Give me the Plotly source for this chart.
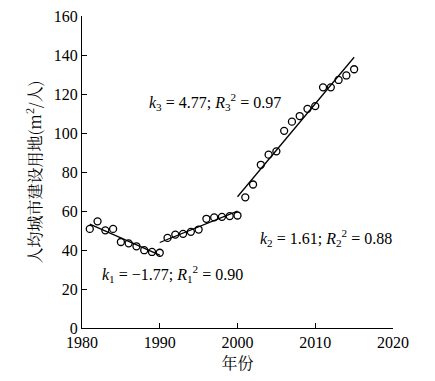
import numpy as np
import plotly.graph_objects as go

years1 = [1981, 1982, 1983, 1984, 1985, 1986, 1987, 1988, 1989, 1990]
vals1 = [50.8, 54.7, 50.1, 50.8, 44.1, 43.4, 41.9, 39.9, 39.0, 38.6]
years2 = [1991, 1992, 1993, 1994, 1995, 1996, 1997, 1998, 1999, 2000]
vals2 = [46.2, 47.9, 48.3, 49.3, 50.5, 56.0, 56.7, 57.0, 57.4, 57.7]
years3 = list(range(2001, 2016))
vals3 = [67.0, 73.6, 83.7, 88.9, 90.6, 101.1, 105.8, 108.7, 112.4, 113.8,
         123.4, 123.4, 127.2, 129.5, 132.7]

slopes = [-1.77, 1.61, 4.77]
r2 = ["0.90", "0.88", "0.97"]
line_ranges = [(1981, 1990), (1990, 2000), (2000, 2015)]

serif = "Liberation Serif, Times New Roman, Noto Sans CJK SC, serif"

fig = go.Figure()
all_years = years1 + years2 + years3
all_vals = vals1 + vals2 + vals3
fig.add_trace(go.Scatter(x=all_years, y=all_vals, mode="markers",
                         marker=dict(symbol="circle-open", size=7,
                                     color="black", line=dict(width=1.3)),
                         showlegend=False))

for (xs, ys), k, (a, b) in zip([(years1, vals1), (years2, vals2), (years3, vals3)],
                               slopes, line_ranges):
    mx, my = np.mean(xs), np.mean(ys)
    lx = [a, b]
    ly = [my + k * (a - mx), my + k * (b - mx)]
    fig.add_trace(go.Scatter(x=lx, y=ly, mode="lines",
                             line=dict(color="black", width=1.3),
                             showlegend=False))

ann = [
    (1988.4, 116, 3, slopes[2], r2[2]),
    (2002.7, 46, 2, slopes[1], r2[1]),
    (1982.3, 27.8, 1, slopes[0], r2[0]),
]
for x, y, i, k, r in ann:
    ks = f"{k:.2f}".replace("-", "\u2212")
    fig.add_annotation(x=x, y=y, xanchor="left", yanchor="middle", showarrow=False,
                       text=f"<i>k</i><sub>{i}</sub> = {ks}; <i>R</i><sub>{i}</sub><sup>2</sup> = {r}",
                       font=dict(family=serif, size=16, color="black"))

fig.update_layout(
    width=427, height=373,
    margin=dict(l=74, r=42, t=8, b=53),
    plot_bgcolor="white", paper_bgcolor="white",
    font=dict(family=serif, size=16, color="black"),
    xaxis=dict(range=[1980, 2020], tickvals=[1980, 1990, 2000, 2010, 2020],
               showgrid=False, zeroline=False, showline=True, linecolor="black",
               linewidth=1.2, ticks="inside", ticklen=5, tickcolor="black",
               automargin=False, ticklabeloverflow="allow",
               title=dict(text="年份", standoff=0,
                          font=dict(family="Noto Serif CJK SC, Noto Sans CJK SC", size=16))),
    yaxis=dict(range=[0, 160], tickvals=list(range(0, 161, 20)),
               showgrid=False, zeroline=False, showline=True, linecolor="black",
               linewidth=1.2, ticks="inside", ticklen=5, tickcolor="black",
               automargin=False, ticklabeloverflow="allow",
               title=dict(text="人均城市建设用地(m<sup>2</sup>/人)", standoff=8,
                          font=dict(family="Noto Serif CJK SC, Noto Sans CJK SC, serif", size=16))),
)

fig.write_html("out.html")
